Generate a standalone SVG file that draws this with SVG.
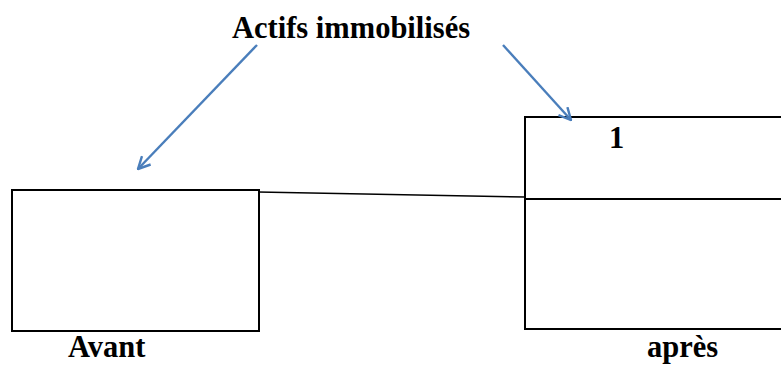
<svg xmlns="http://www.w3.org/2000/svg" width="781" height="365" viewBox="0 0 781 365">
<style>
.box{fill:none;stroke:#000;stroke-width:2}
.lbl{font-family:'Liberation Serif','Times New Roman',serif;font-weight:bold;font-size:30.5px;fill:#000}
.arr{stroke:#4a7ebb;stroke-width:2.4;fill:none;marker-end:url(#ah)}
</style>
<defs>
<marker id="ah" viewBox="0 0 14 14" refX="13" refY="7" markerWidth="14" markerHeight="14" markerUnits="userSpaceOnUse" orient="auto">
<path d="M1,1 L13,7 L1,13" fill="none" stroke="#4a7ebb" stroke-width="2.4"/>
</marker>
</defs>
<rect width="781" height="365" fill="#fff"/>
<text class="lbl" x="232" y="38">Actifs immobilisés</text>
<g id="avant">
<rect class="box" x="12" y="190" width="247" height="141"/>
<text class="lbl" x="68" y="357">Avant</text>
</g>
<g id="apres">
<rect class="box" x="525" y="117" width="270" height="212"/>
<line x1="525" y1="199" x2="781" y2="199" stroke="#000" stroke-width="2"/>
<text class="lbl" x="609" y="148">1</text>
<text class="lbl" x="647" y="357">après</text>
</g>
<g id="connectors">
<line x1="258" y1="192" x2="525" y2="197" stroke="#000" stroke-width="1.6"/>
<line class="arr" x1="257" y1="45" x2="138" y2="169"/>
<line class="arr" x1="503" y1="45" x2="571" y2="120"/>
</g>
</svg>
